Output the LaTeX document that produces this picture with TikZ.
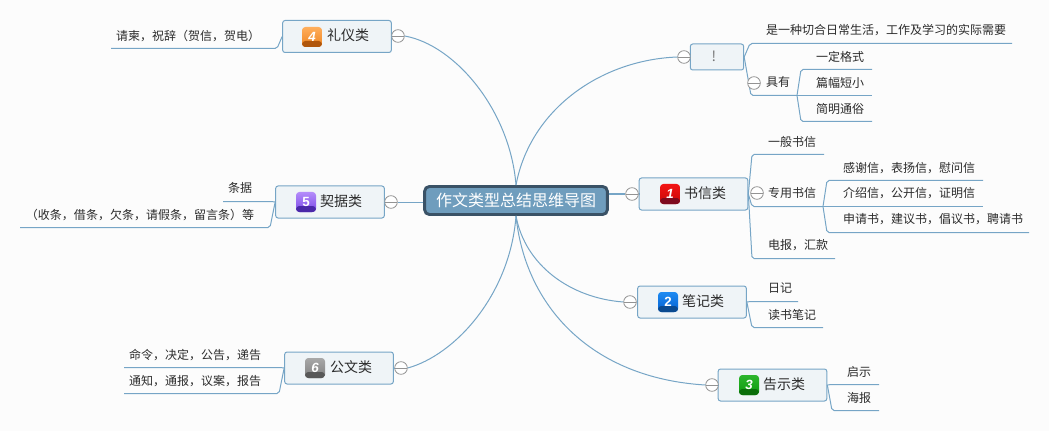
\documentclass[tikz,border=0pt]{standalone}
\usepackage{fontspec}
\setmainfont{Noto Sans CJK SC}
\newfontfamily\numfont{Liberation Sans}
\usetikzlibrary{positioning}
\usetikzlibrary{calc}
\definecolor{linkblue}{HTML}{76A5C6}
\definecolor{boxfill}{HTML}{EFF4F7}
\definecolor{rootfill}{HTML}{6F9DBD}
\definecolor{rootedge}{HTML}{3A5266}
\definecolor{inkgray}{HTML}{2B2B2B}
\tikzset{
  link/.style={draw=linkblue,line width=0.75pt},
  branch/.style={link,rounded corners=1.5pt},
  roottopic/.style={draw=rootedge,fill=rootfill,line width=2.2pt,rounded corners=3.5pt,text=white,
    font=\fontsize{12}{14}\selectfont,minimum width=137pt,minimum height=21pt,inner sep=0pt},
  topicbox/.style={draw=linkblue,fill=boxfill,line width=0.75pt,rounded corners=1.8pt,
    minimum width=81.5pt,minimum height=24pt,inner sep=0pt},
  topiclabel/.style={text=inkgray,font=\fontsize{10.5}{12}\selectfont,inner sep=0pt},
  leaf/.style={text=inkgray,font=\fontsize{9}{11}\selectfont,inner sep=0pt},
  foldmark/.style={circle,draw=gray!85,fill=white,line width=0.6pt,minimum size=9.5pt,inner sep=0pt,
    path picture={\draw[gray!85,line width=0.6pt] (path picture bounding box.west) -- (path picture bounding box.east);}},
  numicon/.style n args={3}{rounded corners=2.5pt,minimum size=15pt,inner sep=0pt,top color=#1,bottom color=#2,
    text=white,font=\numfont\bfseries\itshape\fontsize{10}{10}\selectfont,
    path picture={\fill[#3] ([yshift=-3pt]path picture bounding box.west) rectangle (path picture bounding box.south east);}},
}
\definecolor{iconred}{HTML}{F21414}
\definecolor{iconredd}{HTML}{C80808}
\definecolor{iconredb}{HTML}{7E0A1E}
\definecolor{iconblue}{HTML}{1C8AF2}
\definecolor{iconblued}{HTML}{0560D0}
\definecolor{iconblueb}{HTML}{0A4A90}
\definecolor{icongreen}{HTML}{2DB52D}
\definecolor{icongreend}{HTML}{0C9A0C}
\definecolor{icongreenb}{HTML}{0A6E0A}
\definecolor{iconorange}{HTML}{FFAE5C}
\definecolor{iconoranged}{HTML}{EE8420}
\definecolor{iconorangeb}{HTML}{B0560C}
\definecolor{iconviolet}{HTML}{B48CFA}
\definecolor{iconvioletd}{HTML}{7A48E6}
\definecolor{iconvioletb}{HTML}{4A28A8}
\definecolor{icongray}{HTML}{A8A8A8}
\definecolor{icongrayd}{HTML}{808080}
\definecolor{icongrayb}{HTML}{585858}
\begin{document}
\begin{tikzpicture}[x=0.75pt,y=-0.75pt]
\fill[white!98.8!black] (0,0) rectangle (1049,431);
\useasboundingbox (0,0) rectangle (1049,431);
\node[roottopic] (root) at (516,200.5) {作文类型总结思维导图};
%%%%%%%%%%%%%%%%%%%%%%%%%%%%%%%%%%%%%
\node[topicbox,minimum width=40pt,minimum height=19.5pt] (tquest) at (717,57) {};
\node[topiclabel,text=gray!90!black] at (714,56) (lquest) {!};
\node[foldmark] (fquest) at (684,57) {};
\node[leaf] (a1) at (886,30) {是一种切合日常生活，工作及学习的实际需要};
\node[leaf] (a2) at (778,82) {具有};
\node[leaf] (a21) at (840,57) {一定格式};
\node[leaf] (a22) at (840,83) {篇幅短小};
\node[leaf] (a23) at (840,109) {简明通俗};
\coordinate (a1s) at (750,43.5);
\coordinate (a1e) at (1012,43.5);
\coordinate (a2s) at (751,95.5);
\coordinate (a2e) at (797,95.5);
\coordinate (a21s) at (801,69.5);
\coordinate (a21e) at (872,69.5);
\coordinate (a22e) at (872,95.5);
\coordinate (a23s) at (801,121.5);
\coordinate (a23e) at (872,121.5);
%%%%%%%%%%%%%%%%%%%%%%%%%%%%%%%%%%%%%
\node[topicbox] (t1) at (693.5,194) {};
\node[numicon={iconred}{iconredd}{iconredb}] (n1) at (670,194) {1};
\node[topiclabel] (l1) at (705,193) {书信类};
\node[foldmark] (f1) at (632,194) {};
\node[leaf] (b1) at (792,142) {一般书信};
\node[leaf] (b2) at (792,193) {专用书信};
\node[leaf] (b3) at (798,245) {电报，汇款};
\node[leaf] (b21) at (909,168) {感谢信，表扬信，慰问信};
\node[leaf] (b22) at (909,193) {介绍信，公开信，证明信};
\node[leaf] (b23) at (933,219) {申请书，建议书，倡议书，聘请书};
\coordinate (b1s) at (752,154.5);
\coordinate (b1e) at (824,154.5);
\coordinate (b2s) at (752,206.5);
\coordinate (b2e) at (823,206.5);
\coordinate (b3s) at (752,258.5);
\coordinate (b3e) at (835,258.5);
\coordinate (b21s) at (827,180.5);
\coordinate (b21e) at (983,180.5);
\coordinate (b22e) at (983,206.5);
\coordinate (b23s) at (827,232.5);
\coordinate (b23e) at (1029,232.5);
%%%%%%%%%%%%%%%%%%%%%%%%%%%%%%%%%%%%%
\node[topicbox] (t2) at (692,302) {};
\node[numicon={iconblue}{iconblued}{iconblueb}] (n2) at (668,302) {\upshape 2};
\node[topiclabel] (l2) at (703,301) {笔记类};
\node[foldmark] (f2) at (630,302) {};
\node[leaf] (c1) at (780,288) {日记};
\node[leaf] (c2) at (792,315) {读书笔记};
\coordinate (c1s) at (751,301.5);
\coordinate (c1e) at (798,301.5);
\coordinate (c2s) at (752,327.5);
\coordinate (c2e) at (823,327.5);
%%%%%%%%%%%%%%%%%%%%%%%%%%%%%%%%%%%%%
\node[topicbox] (t3) at (772.5,385) {};
\node[numicon={icongreen}{icongreend}{icongreenb}] (n3) at (749,385) {3};
\node[topiclabel] (l3) at (784,384) {告示类};
\node[foldmark] (f3) at (712,385) {};
\node[leaf] (d1) at (859,372) {启示};
\node[leaf] (d2) at (859,398) {海报};
\coordinate (d1s) at (831,384.5);
\coordinate (d1e) at (879,384.5);
\coordinate (d2s) at (832,410.5);
\coordinate (d2e) at (879,410.5);
%%%%%%%%%%%%%%%%%%%%%%%%%%%%%%%%%%%%%
\node[topicbox] (t4) at (337,36.5) {};
\node[numicon={iconorange}{iconoranged}{iconorangeb}] (n4) at (312,37) {4};
\node[topiclabel] (l4) at (348,35) {礼仪类};
\node[foldmark] (f4) at (398,36) {};
\node[leaf] (e1) at (188,36) {请柬，祝辞（贺信，贺电）};
\coordinate (e1s) at (277,48.5);
\coordinate (e1e) at (111,48.5);
%%%%%%%%%%%%%%%%%%%%%%%%%%%%%%%%%%%%%
\node[topicbox] (t5) at (330,202) {};
\node[numicon={iconviolet}{iconvioletd}{iconvioletb}] (n5) at (306,202) {\upshape 5};
\node[topiclabel] (l5) at (341,201) {契据类};
\node[foldmark] (f5) at (391,202) {};
\node[leaf] (g1) at (240,188) {条据};
\node[leaf] (g2) at (140,215) {（收条，借条，欠条，请假条，留言条）等};
\coordinate (g1s) at (273,201.5);
\coordinate (g1e) at (223,201.5);
\coordinate (g2s) at (270,227.5);
\coordinate (g2e) at (20,227.5);
%%%%%%%%%%%%%%%%%%%%%%%%%%%%%%%%%%%%%
\node[topicbox] (t6) at (339,368) {};
\node[numicon={icongray}{icongrayd}{icongrayb}] (n6) at (315,368) {6};
\node[topiclabel] (l6) at (351,367) {公文类};
\node[foldmark] (f6) at (401,368) {};
\node[leaf] (h1) at (195,355) {命令，决定，公告，递告};
\node[leaf] (h2) at (195,381) {通知，通报，议案，报告};
\coordinate (h1s) at (282,367.5);
\coordinate (h1e) at (124,367.5);
\coordinate (h2s) at (279,393.5);
\coordinate (h2e) at (124,393.5);
%%%%%%%%%%%%%%%%%%%%%%%%%%%%%%%%%%%%%
\draw[link] (root.north) .. controls (530,110) and (600,60) .. (fquest.west);
\draw[link] (root.north) .. controls (510,110) and (455,45) .. (f4.east);
\draw[link] (root.south) .. controls (510,295) and (455,355) .. (f6.east);
\draw[link] (root.south) .. controls (525,265) and (570,298) .. (f2.west);
\draw[link] (root.south) .. controls (525,305) and (590,378) .. (f3.west);
\draw[link] (root.east |- f1) -- (f1.west);
\draw[link] (f1.east) -- (t1.west);
\draw[link] (f2.east) -- (t2.west);
\draw[link] (f3.east) -- (t3.west);
\draw[link] (fquest.east) -- (tquest.west);
\draw[link] (t4.east) -- (f4.west);
\draw[link] (t5.east) -- (f5.west);
\draw[link] (t6.east) -- (f6.west);
\draw[link] (f5.east) -- (root.west |- f5);
%%%%%%%%%%%%%%%%%%%%%%%%%%%%%
\draw[branch] (tquest.east) -- (a1s) -- (a1e);
\draw[branch] (tquest.east) -- (a2s) -- (a2e);
\draw[branch] (a2e) -- (a21s) -- (a21e);
\draw[link] (a2e) -- (a22e);
\draw[branch] (a2e) -- (a23s) -- (a23e);
%%%%%%%%%%%%%%%%%%%%%%%%%%%%%
\draw[branch] (t1.east) -- (b1s) -- (b1e);
\draw[branch] (t1.east) -- (b2s) -- (b2e);
\draw[branch] (t1.east) -- (b3s) -- (b3e);
\draw[branch] (b2e) -- (b21s) -- (b21e);
\draw[link] (b2e) -- (b22e);
\draw[branch] (b2e) -- (b23s) -- (b23e);
%%%%%%%%%%%%%%%%%%%%%%%%%%%%%
\draw[branch] (t2.east) -- (c1s) -- (c1e);
\draw[branch] (t2.east) -- (c2s) -- (c2e);
\draw[branch] (t3.east) -- (d1s) -- (d1e);
\draw[branch] (t3.east) -- (d2s) -- (d2e);
%%%%%%%%%%%%%%%%%%%%%%%%%%%%%
\draw[branch] (t4.west) -- (e1s) -- (e1e);
\draw[branch] (t5.west) -- (g1s) -- (g1e);
\draw[branch] (t5.west) -- (g2s) -- (g2e);
\draw[branch] (t6.west) -- (h1s) -- (h1e);
\draw[branch] (t6.west) -- (h2s) -- (h2e);
%%%%%%%%%%%%%%%%%%%%%%%%%%%%%
\node[foldmark] (fa2) at (754,83) {};
\node[foldmark] (fb2) at (757,193) {};
\end{tikzpicture}
\end{document}
